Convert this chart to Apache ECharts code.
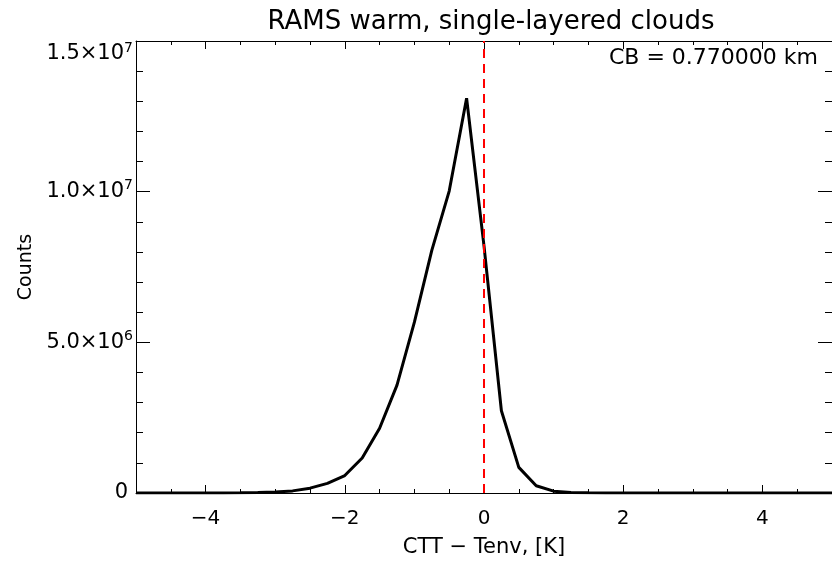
<!DOCTYPE html>
<html>
<head>
<meta charset="utf-8">
<script src="https://cdn.jsdelivr.net/npm/echarts@6/dist/echarts.min.js"></script>
<style>
html,body{margin:0;padding:0;background:#fff;}
#chart{width:832px;height:563px;}
</style>
</head>
<body>
<div id="chart"></div>
<script>
// ---- data ----
const xValues = [-5, -4.75, -4.5, -4.25, -4, -3.75, -3.5, -3.25, -3, -2.75, -2.5, -2.25, -2, -1.75, -1.5, -1.25, -1, -0.75, -0.5, -0.25,
  0, 0.25, 0.5, 0.75, 1, 1.25, 1.5, 1.75, 2, 2.25, 2.5, 2.75, 3, 3.25, 3.5, 3.75, 4, 4.25, 4.5, 4.75, 5];
const counts = [0, 0, 0, 0, 2000, 4000, 8000, 15000, 30000, 70000, 160000, 320000, 580000, 1160000, 2150000, 3580000, 5670000, 8050000, 10020000, 13100000,
  8200000, 2730000, 850000, 240000, 60000, 20000, 8000, 3000, 1000, 0, 0, 0, 0, 0, 0, 0, 0, 0, 0, 0, 0];
const xMajorTicks = [-4, -2, 0, 2, 4];
const xMinorTicks = [-4.5, -4, -3.5, -3, -2.5, -2, -1.5, -1, -0.5, 0, 0.5, 1, 1.5, 2, 2.5, 3, 3.5, 4, 4.5];
const yTickValues = [0, 5e6, 1e7, 1.5e7];
const yTickMantissa = ['0', '5.0×10', '1.0×10', '1.5×10'];
const yTickExponent = ['', '6', '7', '7'];
const refLineX = 0;
const titleText = 'RAMS warm, single-layered clouds';
const noteText = 'CB = 0.770000 km';
const xName = 'CTT − Tenv, [K]';
const yName = 'Counts';

const FONT = 'DejaVu Sans';
const seriesData = xValues.map((x, i) => [x, counts[i]]);
const tickLine = { color: '#000', width: 1 };

function xFmt(v) { return (v < 0 ? '\u2212' : '') + Math.abs(v); }
function yFmt(v) {
  const i = yTickValues.findIndex(t => Math.abs(t - v) < 1);
  if (i < 0) return '';
  if (!yTickExponent[i]) return '{z|' + yTickMantissa[i] + '}';
  return '{m|' + yTickMantissa[i] + '}{e|' + yTickExponent[i] + '}';
}

function xAxisDef(pos, ticks, len, withLabels, showLine) {
  return {
    type: 'value', min: -5, max: 5, position: pos,
    axisLine: { show: showLine, onZero: false, lineStyle: tickLine },
    axisTick: { show: true, inside: true, length: len, customValues: ticks, lineStyle: tickLine },
    axisLabel: withLabels ? { show: true, customValues: xMajorTicks, formatter: xFmt, fontFamily: FONT, fontSize: 20, color: '#000', margin: 16 } : { show: false },
    splitLine: { show: false },
    name: withLabels ? xName : '',
    nameLocation: 'middle', nameGap: 44,
    nameTextStyle: { fontFamily: FONT, fontSize: 21, color: '#000' }
  };
}
function yAxisDef(pos, withLabels) {
  return {
    type: 'value', min: 0, max: 1.5e7, interval: 5e6, position: pos,
    axisLine: { show: true, onZero: false, lineStyle: tickLine },
    axisTick: { show: true, inside: true, length: 14, lineStyle: tickLine },
    minorTick: { show: true, splitNumber: 5, length: 7, lineStyle: tickLine },
    axisLabel: withLabels ? {
      show: true, formatter: yFmt, margin: 3, color: '#000',
      verticalAlignMaxLabel: 'top',
      rich: {
        m: { fontFamily: FONT, fontSize: 21, color: '#000' },
        e: { fontFamily: FONT, fontSize: 14, color: '#000', verticalAlign: 'top', padding: [0, 0, 12, 0] },
        z: { fontFamily: FONT, fontSize: 21, color: '#000', padding: [0, 5, 0, 0] }
      }
    } : { show: false },
    splitLine: { show: false },
    minorSplitLine: { show: false },
    name: withLabels ? yName : '',
    nameLocation: 'middle', nameGap: 100, nameRotate: 90,
    nameTextStyle: { fontFamily: FONT, fontSize: 19, color: '#000' }
  };
}

const chart = echarts.init(document.getElementById('chart'), null, { renderer: 'canvas' });
chart.setOption({
  animation: false,
  backgroundColor: '#fff',
  title: {
    text: titleText, left: 486, top: 4, textAlign: 'center',
    textStyle: { fontFamily: FONT, fontSize: 26, fontWeight: 'normal', color: '#000' }
  },
  graphic: [{
    type: 'text', right: 14, top: 47,
    style: { text: noteText, fontFamily: FONT, fontSize: 22, fill: '#000' }
  }],
  grid: { left: 136, top: 41, width: 700, height: 454, containLabel: false, show: false },
  xAxis: [
    xAxisDef('bottom', xMajorTicks, 8, true, true),
    xAxisDef('bottom', xMinorTicks, 4, false, false),
    xAxisDef('top', xMajorTicks, 8, false, true),
    xAxisDef('top', xMinorTicks, 4, false, false)
  ],
  yAxis: [yAxisDef('left', true), yAxisDef('right', false)],
  series: [{
    type: 'line', xAxisIndex: 0, yAxisIndex: 0,
    data: seriesData, symbol: 'none', smooth: false,
    lineStyle: { color: '#000', width: 3 },
    markLine: {
      silent: true, symbol: ['none', 'none'], label: { show: false },
      lineStyle: { color: '#ff0000', width: 2, type: [9, 6] },
      data: [{ xAxis: refLineX }]
    }
  }]
});
</script>
</body>
</html>
